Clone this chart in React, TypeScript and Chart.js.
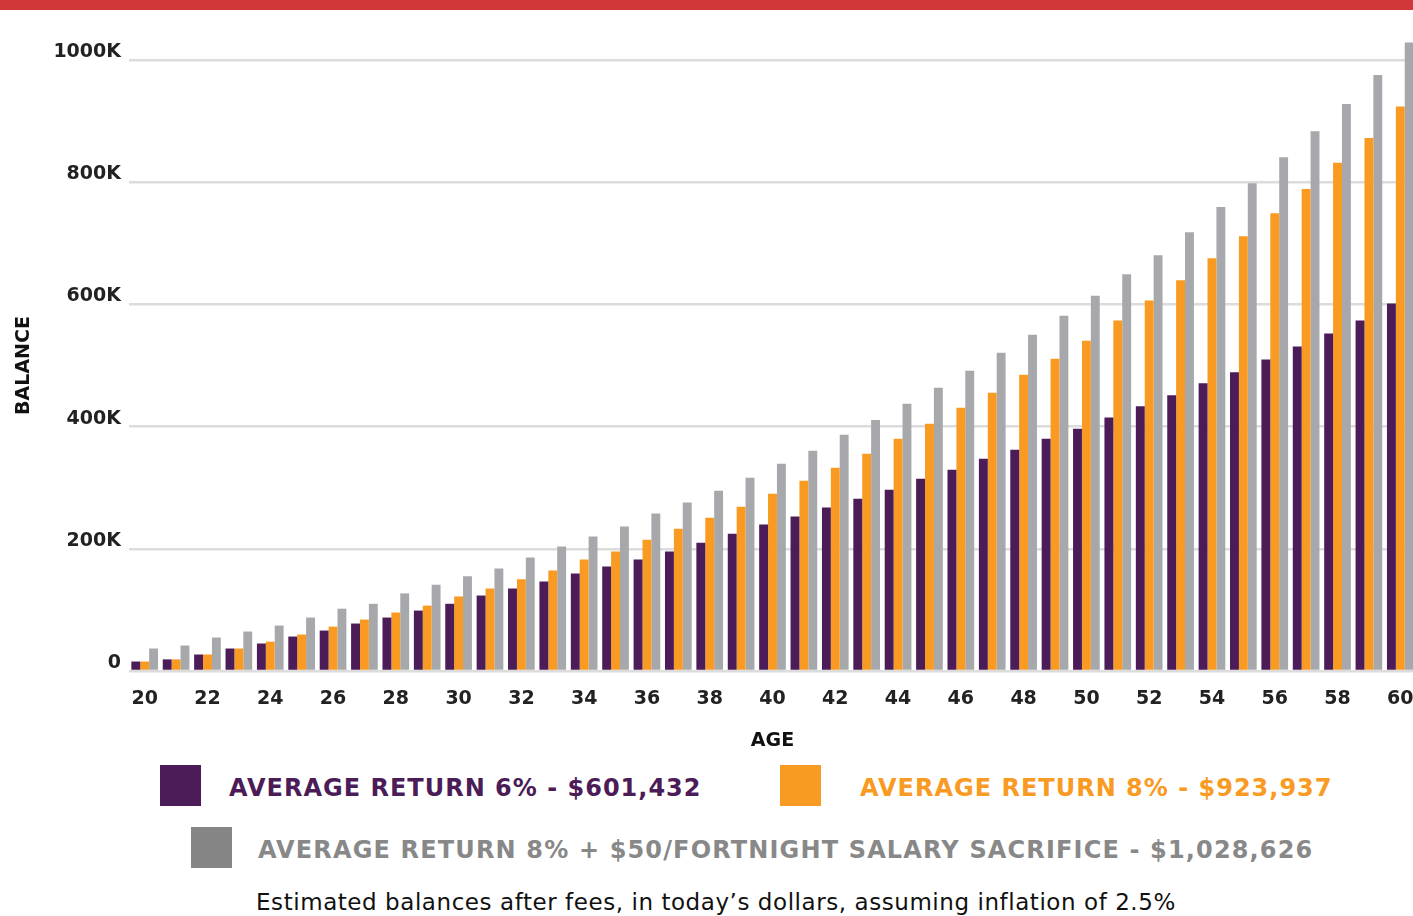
import React, { useEffect, useRef } from "react";
import { Chart, registerables } from "chart.js";

Chart.register(...registerables);

// ---- Data (balances in thousands of dollars) ----
const ages = [
  20, 21, 22, 23, 24, 25, 26, 27, 28, 29, 30, 31, 32, 33, 34, 35, 36, 37, 38, 39, 40,
  41, 42, 43, 44, 45, 46, 47, 48, 49, 50, 51, 52, 53, 54, 55, 56, 57, 58, 59, 60,
];

const return6 = [
  15.5, 19, 27, 36.8, 45, 56.4, 66.2, 77.7, 87.5, 98.9, 110, 123.5, 135, 146.3, 159.4, 171,
  182.3, 195.4, 210, 224.8, 239.6, 252.7, 267.4, 282, 296.8, 314.8, 329.5, 347.5, 362.3,
  380.3, 396.6, 415, 433.4, 451.3, 470.8, 488.8, 509.7, 531.3, 552.2, 573.8, 601.4,
];

const return8 = [
  15.5, 19, 27, 36.8, 48, 59.7, 72.7, 84.2, 95.7, 107, 122, 135, 150, 164.3, 182.3, 195.4,
  215, 233, 251, 269, 290, 311.5, 332.8, 355.7, 380, 404.7, 430.9, 455.4, 484.9, 511,
  540.5, 573.8, 606.4, 639.6, 675.5, 711.7, 749.2, 788.7, 832, 872.4, 923.9,
];

const return8Sacrifice = [
  36.8, 41.7, 54.8, 64.6, 74.4, 87.5, 102, 110, 127, 141, 155, 167.6, 185.6, 203.6, 220,
  236.4, 257.6, 275.6, 295, 316.4, 339, 360.6, 386.7, 411, 437.4, 463.6, 491.4, 521, 550.4,
  581.5, 614, 649.5, 680.6, 718, 759.3, 798.2, 840.7, 883.2, 928, 975.5, 1028.6,
];

const seriesLabels = [
  "AVERAGE RETURN 6% - $601,432",
  "AVERAGE RETURN 8% - $923,937",
  "AVERAGE RETURN 8% + $50/FORTNIGHT SALARY SACRIFICE - $1,028,626",
];

const yAxisTitle = "BALANCE";
const xAxisTitle = "AGE";
const caption =
  "Estimated balances after fees, in today\u2019s dollars, assuming inflation of 2.5%";

const PURPLE = "#4B1C57";
const ORANGE = "#F99A23";
const GRAY_BAR = "#A7A8AB";
const GRAY_LEGEND = "#858585";
const GRAY_TEXT = "#888888";

const FONT = "'DejaVu Sans', Verdana, sans-serif";

export default function App() {
  const canvasRef = useRef<HTMLCanvasElement | null>(null);

  useEffect(() => {
    document.body.style.margin = "0";
    const canvas = canvasRef.current;
    if (!canvas) return;

    const chart = new Chart(canvas, {
      type: "bar",
      data: {
        labels: ages.map(String),
        datasets: [
          {
            label: seriesLabels[0],
            data: return6,
            backgroundColor: PURPLE,
            borderWidth: 0,
            clip: false as any,
          },
          {
            label: seriesLabels[1],
            data: return8,
            backgroundColor: ORANGE,
            borderWidth: 0,
            clip: false as any,
          },
          {
            label: seriesLabels[2],
            data: return8Sacrifice,
            backgroundColor: GRAY_BAR,
            borderWidth: 0,
            clip: false as any,
          },
        ],
      },
      options: {
        animation: false,
        responsive: false,
        maintainAspectRatio: false,
        devicePixelRatio: 1,
        layout: { padding: { left: 8, top: 50, right: 0, bottom: 0 } },
        datasets: {
          bar: { categoryPercentage: 0.85, barPercentage: 1.0 },
        },
        plugins: {
          legend: { display: false },
          tooltip: { enabled: false },
        },
        scales: {
          x: {
            grid: { display: false, drawTicks: true, tickLength: 17 },
            border: { display: false },
            ticks: {
              autoSkip: false,
              maxRotation: 0,
              minRotation: 0,
              padding: 0,
              color: "#222222",
              font: { family: FONT, size: 19, weight: "bold" },
              callback: (_v: any, index: number) =>
                index % 2 === 0 ? String(ages[index]) : "",
            },
            title: {
              display: true,
              text: xAxisTitle,
              color: "#111111",
              padding: { top: 0, bottom: 0 },
              font: { family: FONT, size: 19, weight: "bold" },
            },
            afterFit: (scale: any) => {
              scale.height = 81;
            },
          },
          y: {
            min: 0,
            max: 1000,
            grid: {
              color: "#dcdcdc",
              lineWidth: 2.5,
              drawTicks: false,
            },
            border: { display: false },
            ticks: {
              stepSize: 200,
              padding: 8,
              labelOffset: -8,
              color: "#222222",
              font: { family: FONT, size: 19, weight: "bold" },
              callback: (v: any) => (Number(v) === 0 ? "0" : `${v}K`),
            },
            title: {
              display: true,
              text: yAxisTitle,
              color: "#111111",
              padding: { top: 5, bottom: 0 },
              font: { family: FONT, size: 19, weight: "bold" },
            },
            afterFit: (scale: any) => {
              scale.width = 121;
            },
          },
        },
      },
    });

    return () => chart.destroy();
  }, []);

  const legendText: React.CSSProperties = {
    position: "absolute",
    fontFamily: FONT,
    fontWeight: "bold",
    fontSize: 24,
    lineHeight: "24px",
    letterSpacing: "1px",
    whiteSpace: "nowrap",
  };

  const square: React.CSSProperties = {
    position: "absolute",
    width: 41,
    height: 41,
  };

  return (
    <div
      style={{
        position: "relative",
        width: 1413,
        height: 916,
        overflow: "hidden",
        background: "#ffffff",
      }}
    >
      <div
        style={{
          position: "absolute",
          left: 0,
          top: 0,
          width: 1413,
          height: 10,
          background: "#D13639",
        }}
      />
      <canvas
        ref={canvasRef}
        width={1416}
        height={742}
        style={{ position: "absolute", left: 0, top: 10, width: 1416, height: 742 }}
      />

      <div style={{ ...square, left: 160, top: 765, background: PURPLE }} />
      <div style={{ ...legendText, left: 229, top: 776, color: PURPLE }}>{seriesLabels[0]}</div>

      <div style={{ ...square, left: 780, top: 765, background: ORANGE }} />
      <div style={{ ...legendText, left: 860, top: 776, color: ORANGE }}>{seriesLabels[1]}</div>

      <div style={{ ...square, left: 191, top: 827, background: GRAY_LEGEND }} />
      <div
        style={{ ...legendText, left: 258, top: 838, color: GRAY_TEXT, letterSpacing: "1.15px" }}
      >
        {seriesLabels[2]}
      </div>

      <div
        style={{
          position: "absolute",
          left: 256,
          top: 891,
          fontFamily: FONT,
          fontSize: 23,
          lineHeight: "23px",
          letterSpacing: "0.56px",
          color: "#111111",
          whiteSpace: "nowrap",
        }}
      >
        {caption}
      </div>
    </div>
  );
}
